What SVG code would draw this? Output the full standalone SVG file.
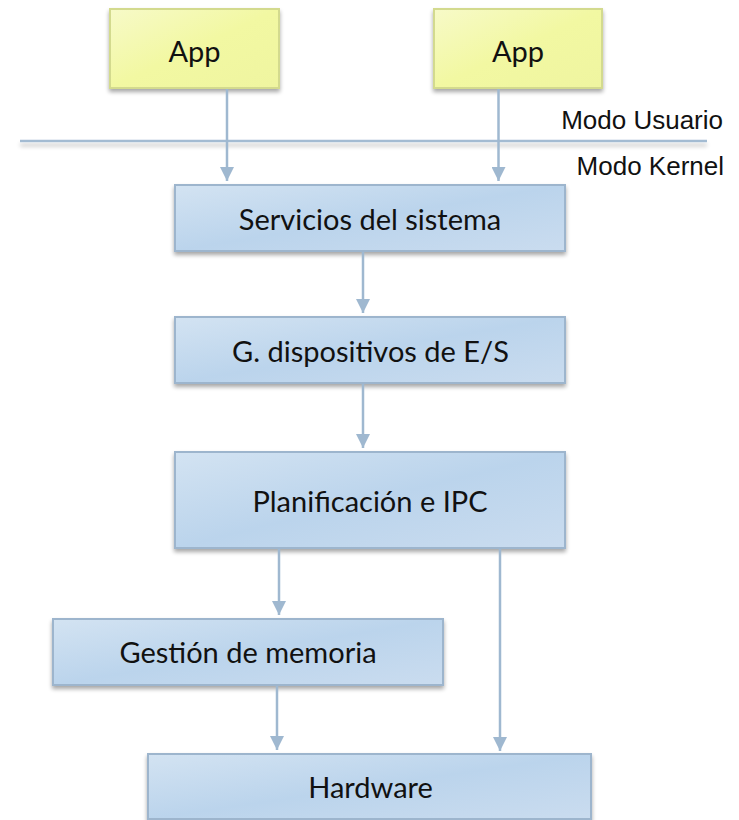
<svg xmlns="http://www.w3.org/2000/svg" width="739" height="820" viewBox="0 0 739 820">
  <defs>
    <linearGradient id="blueFill" x1="0" y1="0" x2="1" y2="1">
      <stop offset="0" stop-color="#d3e3f2"/>
      <stop offset="0.5" stop-color="#bbd4ec"/>
      <stop offset="1" stop-color="#cadcef"/>
    </linearGradient>
    <linearGradient id="yellowFill" x1="0" y1="0" x2="1" y2="1">
      <stop offset="0" stop-color="#f7fac8"/>
      <stop offset="0.5" stop-color="#f2f8a2"/>
      <stop offset="1" stop-color="#eff5a0"/>
    </linearGradient>
    <filter id="shadow" x="-10%" y="-20%" width="120%" height="150%">
      <feGaussianBlur in="SourceAlpha" stdDeviation="2"/>
      <feOffset dx="0" dy="3" result="blur"/>
      <feComponentTransfer><feFuncA type="linear" slope="0.35"/></feComponentTransfer>
      <feMerge><feMergeNode/><feMergeNode in="SourceGraphic"/></feMerge>
    </filter>
    <filter id="lineShadow" filterUnits="userSpaceOnUse" x="0" y="130" width="739" height="30">
      <feGaussianBlur in="SourceAlpha" stdDeviation="2"/>
      <feOffset dx="0" dy="4" result="blur"/>
      <feComponentTransfer><feFuncA type="linear" slope="0.25"/></feComponentTransfer>
      <feMerge><feMergeNode/><feMergeNode in="SourceGraphic"/></feMerge>
    </filter>
    <marker id="arrow" viewBox="0 0 14 14" refX="14" refY="7" markerWidth="14" markerHeight="14" markerUnits="userSpaceOnUse" orient="auto">
      <path d="M0,0 L14,7 L0,14 z" fill="#9fb8d0"/>
    </marker>
  </defs>
  <style>
    .box { fill: url(#blueFill); stroke: #9db5cd; stroke-width: 2; filter: url(#shadow); }
    .app { fill: url(#yellowFill); stroke: #d3da8e; stroke-width: 2; filter: url(#shadow); }
    .label { font-family: Lato, "Noto Sans", sans-serif; font-size: 29px; fill: #111; text-anchor: middle; }
    .mode { font-family: "Liberation Sans", Arial, sans-serif; font-size: 26px; fill: #111; text-anchor: end; }
    .conn { stroke: #9fb8d0; stroke-width: 2.5; fill: none; marker-end: url(#arrow); }
    .divider { stroke: #a3bbd2; stroke-width: 2.5; filter: url(#lineShadow); }
  </style>

  <!-- user / kernel boundary -->
  <g id="boundary">
    <line class="divider" x1="20" y1="141" x2="707" y2="141"/>
    <text class="mode" x="723" y="129">Modo Usuario</text>
    <text class="mode" x="724" y="175">Modo Kernel</text>
  </g>

  <g id="app-left">
    <rect class="app" x="110" y="9" width="169" height="79"/>
    <text class="label" x="194.5" y="62" font-size="30">App</text>
  </g>
  <g id="app-right">
    <rect class="app" x="434" y="9" width="168" height="79"/>
    <text class="label" x="518" y="62" font-size="30">App</text>
  </g>

  <g id="servicios">
    <rect class="box" x="175" y="185" width="390" height="66"/>
    <text class="label" x="370" y="230">Servicios del sistema</text>
  </g>
  <g id="dispositivos">
    <rect class="box" x="175" y="317" width="390" height="66"/>
    <text class="label" x="370.5" y="362">G. dispositivos de E/S</text>
  </g>
  <g id="planificacion">
    <rect class="box" x="175" y="452" width="390" height="96"/>
    <text class="label" x="370" y="512">Planificación e IPC</text>
  </g>
  <g id="memoria">
    <rect class="box" x="53" y="619" width="390" height="66"/>
    <text class="label" x="248" y="663">Gestión de memoria</text>
  </g>
  <g id="hardware">
    <rect class="box" x="148" y="754" width="443" height="65"/>
    <text class="label" x="370.5" y="798">Hardware</text>
  </g>

  <g id="connectors">
    <line class="conn" x1="227" y1="89" x2="227" y2="181"/>
    <line class="conn" x1="498.5" y1="89" x2="498.5" y2="181"/>
    <line class="conn" x1="363" y1="252" x2="363" y2="313"/>
    <line class="conn" x1="363" y1="384" x2="363" y2="448"/>
    <line class="conn" x1="279" y1="549" x2="279" y2="615"/>
    <line class="conn" x1="500" y1="549" x2="500" y2="751"/>
    <line class="conn" x1="277" y1="686" x2="277" y2="750"/>
  </g>
</svg>
